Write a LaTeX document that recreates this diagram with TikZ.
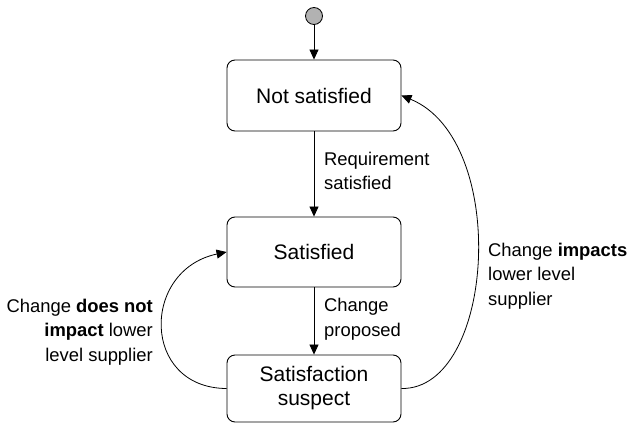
\documentclass[tikz,border=0pt]{standalone}
\usepackage{fontspec}
\setmainfont{Liberation Sans}
\usetikzlibrary{arrows.meta}

\begin{document}
\begin{tikzpicture}[x=1pt, y=1pt]
        \tikzstyle{state}=[rectangle, rounded corners=8pt, draw=black, line width=0.9pt, minimum width=174pt, font=\fontsize{21}{24}\selectfont, align=center, inner sep=0pt]
        \tikzstyle{lbl}=[inner sep=0pt, font=\fontsize{18.4}{24.5}\selectfont]
        \tikzstyle{edge}=[black, line width=0.8pt, -{Triangle[length=10pt, width=9pt]}]

        \useasboundingbox (0,0) rectangle (631,424);

        \node[circle, draw=black, fill=black!30, line width=0.8pt, minimum size=17pt, inner sep=0pt] (start) at (314,408) {};

        \node[state, minimum height=71pt] (ns) at (314,328.5) {Not satisfied};
        \node[state, minimum height=70pt] (s)  at (314,172)   {Satisfied};
        \node[state, minimum height=67pt] (ss) at (314,35.5)  {Satisfaction\\suspect};

        \node[lbl, anchor=west, align=left]  (req)  at (324,253) {Requirement\\satisfied};
        \node[lbl, anchor=west, align=left]  (prop) at (324,105) {Change\\proposed};
        \node[lbl, anchor=west, align=left]  (imp)  at (488,148) {Change \textbf{impacts}\\lower level\\supplier};
        \node[lbl, anchor=east, align=right] (nimp) at (153,92)  {Change \textbf{does not}\\\textbf{impact} lower\\level supplier};

        \draw[edge] (start) -- (ns);
        \draw[edge] (ns) -- (s);
        \draw[edge] (s) -- (ss);

        \draw[edge] (ss.east) .. controls (495,34) and (510,284) .. (ns.east);
        \draw[edge] (ss.west) .. controls (141,36) and (141,154) .. (s.west);
    \end{tikzpicture}
\end{document}
